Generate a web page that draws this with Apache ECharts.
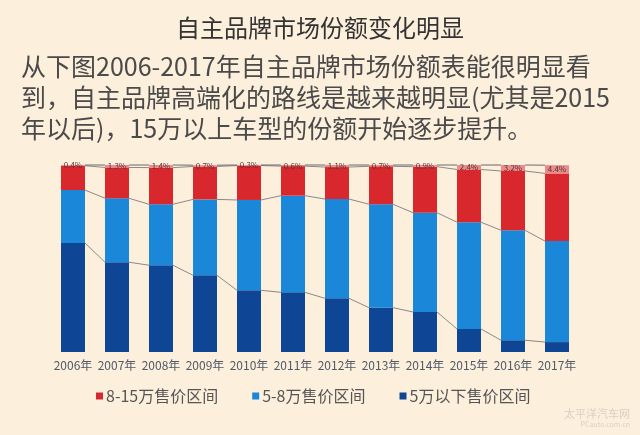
<!DOCTYPE html>
<html>
<head>
<meta charset="utf-8">
<script src="https://cdn.jsdelivr.net/npm/echarts@6/dist/echarts.min.js"></script>
<style>
html,body{margin:0;padding:0;background:#fcefdc;}
#c{width:640px;height:435px;}
</style>
</head>
<body>
<div id="c"></div>
<script>
var years = ['2006年','2007年','2008年','2009年','2010年','2011年','2012年','2013年','2014年','2015年','2016年','2017年'];
var below5 = [58.3, 48.0, 46.4, 41.0, 33.0, 31.9, 28.7, 23.7, 21.4, 12.3, 6.3, 5.3];
var from5to8 = [28.3, 34.2, 32.6, 40.6, 48.3, 51.7, 53.1, 55.3, 53.1, 57.1, 58.8, 54.0];
var from8to15 = [13.0, 16.5, 19.6, 17.6, 18.4, 15.8, 17.1, 20.3, 24.6, 28.2, 31.7, 36.2];
var above15 = [0.4, 1.3, 1.4, 0.7, 0.3, 0.6, 1.1, 0.7, 0.9, 2.4, 3.2, 4.4];
var seriesNames = ['5万以下售价区间', '5-8万售价区间', '8-15万售价区间', '15万以上售价区间'];
var titleText = '自主品牌市场份额变化明显';
var descLines = [
  '从下图2006-2017年自主品牌市场份额表能很明显看',
  '到，自主品牌高端化的路线是越来越明显(尤其是2015',
  '年以后)，15万以上车型的份额开始逐步提升。'
];

var BAR_W = 24;
var layers = [below5, from5to8, from8to15, above15];
var cum = years.map(function (y, i) {
  var s = 0, out = [];
  layers.forEach(function (arr) { s += arr[i]; out.push(s); });
  return out;
});
var lineData = [];
for (var i = 0; i < years.length - 1; i++) {
  lineData.push([i].concat(cum[i], cum[i + 1]));
}

var chart = echarts.init(document.getElementById('c'));
var font = '"Noto Sans CJK SC", "Noto Sans", sans-serif';
var option = {
  backgroundColor: '#fcefdc',
  animation: false,
  textStyle: { fontFamily: font },
  grid: { left: 51, right: 61, top: 165, bottom: 83, containLabel: false },
  xAxis: {
    type: 'category',
    data: years,
    axisLine: { show: false },
    axisTick: { show: false },
    axisLabel: { interval: 0, color: '#4f5a68', fontSize: 12, margin: 7, fontFamily: font }
  },
  yAxis: { type: 'value', min: 0, max: 100, show: false },
  legend: {
    data: [seriesNames[2], seriesNames[1], seriesNames[0]],
    left: 91, top: 383,
    icon: 'rect', itemWidth: 7, itemHeight: 7, itemGap: 34,
    textStyle: { fontSize: 16, color: '#555', fontFamily: font, padding: [0,0,0,-2] }
  },
  graphic: [
    { type: 'text', left: 'center', top: 16, style: { text: titleText, font: '24px ' + font, fill: '#333' } },
    { type: 'text', left: 21, top: 54, style: { text: descLines[0], font: '25px ' + font, fill: '#4a4a4a' } },
    { type: 'text', left: 21, top: 85, style: { text: descLines[1], font: '25px ' + font, fill: '#4a4a4a' } },
    { type: 'text', left: 21, top: 116, style: { text: descLines[2], font: '25px ' + font, fill: '#4a4a4a' } },
    { type: 'text', right: 10, top: 408, style: { text: '太平洋汽车网', font: '11px ' + font, fill: '#d8d0c6' } },
    { type: 'text', right: 10, top: 421, style: { text: 'PCauto.com.cn', font: '7px ' + font, fill: '#d8d0c6' } }
  ],
  series: [
    { name: seriesNames[0], type: 'bar', stack: 'a', barWidth: BAR_W, data: below5, itemStyle: { color: '#0e4594' } },
    { name: seriesNames[1], type: 'bar', stack: 'a', barWidth: BAR_W, data: from5to8, itemStyle: { color: '#1b87d8' } },
    { name: seriesNames[2], type: 'bar', stack: 'a', barWidth: BAR_W, data: from8to15, itemStyle: { color: '#d8282e' } },
    { name: seriesNames[3], type: 'bar', stack: 'a', barWidth: BAR_W, data: above15, itemStyle: { color: '#e98a8b' },
      label: { show: true, position: 'inside', fontSize: 8, color: '#5a3434', formatter: function (p) { return p.value + '%'; } } },
    {
      type: 'custom', silent: true, z: 5,
      data: lineData,
      renderItem: function (params, api) {
        var idx = api.value(0);
        var children = [];
        for (var k = 0; k < 4; k++) {
          var a = api.coord([idx, api.value(1 + k)]);
          var b = api.coord([idx + 1, api.value(5 + k)]);
          children.push({
            type: 'line',
            shape: { x1: a[0] + BAR_W / 2, y1: a[1], x2: b[0] - BAR_W / 2, y2: b[1] },
            style: { stroke: k === 3 ? '#6b6b6b' : '#8a8a8a', lineWidth: 1 }
          });
        }
        return { type: 'group', children: children };
      }
    }
  ]
};
chart.setOption(option);
</script>
</body>
</html>
